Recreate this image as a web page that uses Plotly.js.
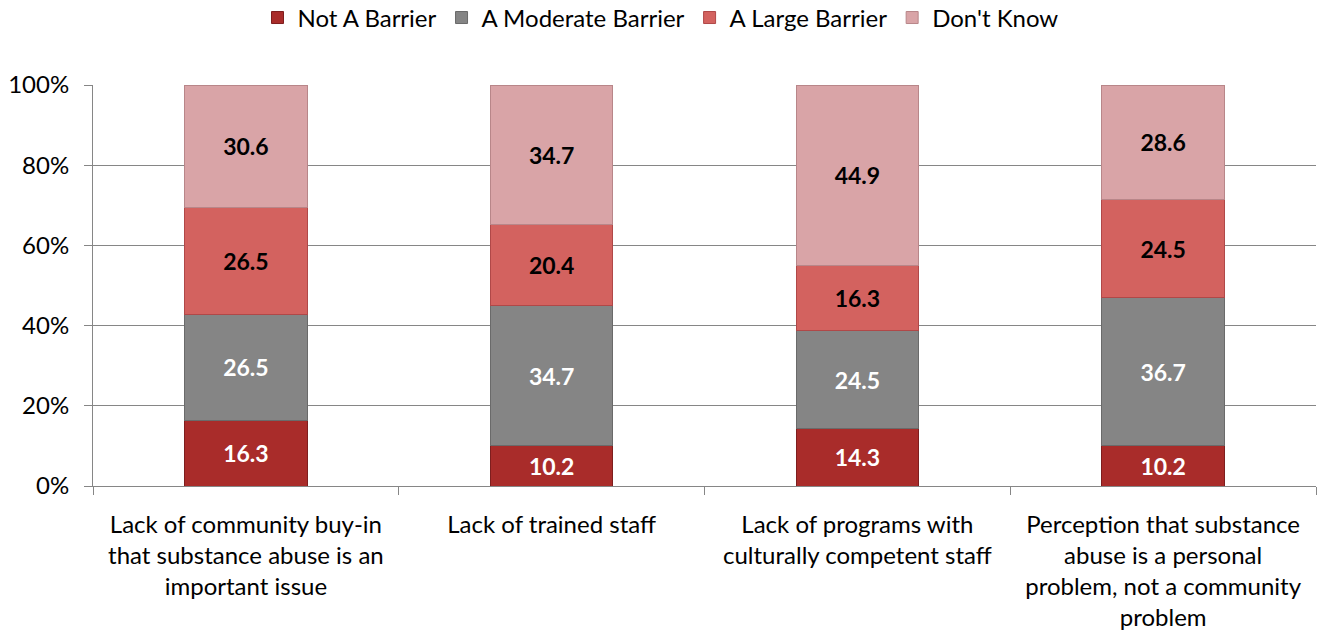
<!DOCTYPE html>
<html>
<head>
<meta charset="utf-8">
<script src="https://cdn.plot.ly/plotly-3.0.1.min.js"></script>
<style>html,body{margin:0;padding:0;background:#fff;}#chart{width:1321px;height:640px;}</style>
</head>
<body>
<div id="chart"></div>
<script>
const categories = [
  "Lack of community buy-in<br>that substance abuse is an<br>important issue",
  "Lack of trained staff",
  "Lack of programs with<br>culturally competent staff",
  "Perception that substance<br>abuse is a personal<br>problem, not a community<br>problem"
];
const seriesNames = ["Not A Barrier", "A Moderate Barrier", "A Large Barrier", "Don't Know"];
const notABarrier = [16.3, 10.2, 14.3, 10.2];
const moderateBarrier = [26.5, 34.7, 24.5, 36.7];
const largeBarrier = [26.5, 20.4, 16.3, 24.5];
const dontKnow = [30.6, 34.7, 44.9, 28.6];
const yTickVals = [0, 20, 40, 60, 80, 100];
const yTickText = ["0%", "20%", "40%", "60%", "80%", "100%"];

const seriesValues = [notABarrier, moderateBarrier, largeBarrier, dontKnow];
const colors = ["#a92c2a", "#858585", "#d3625f", "#d9a4a7"];
const lineColors = ["#7e1e1e", "#6a6a6a", "#b04848", "#b88689"];
const textColors = ["#ffffff", "#ffffff", "#000000", "#000000"];
const font = "Lato, 'Open Sans', sans-serif";

const traces = seriesValues.map((vals, i) => ({
  type: "bar",
  name: seriesNames[i],
  x: categories,
  y: vals,
  text: vals.map(v => v.toFixed(1)),
  textposition: "inside",
  insidetextanchor: "middle",
  textangle: 0,
  textfont: {family: font, size: 23, color: textColors[i], weight: "bold"},
  marker: {color: colors[i], line: {color: lineColors[i], width: 1}},
  hoverinfo: "none"
}));

const layout = {
  width: 1321, height: 640,
  margin: {l: 93, r: 5, t: 85, b: 154},
  barmode: "stack",
  barnorm: "percent",
  bargap: 0.6,
  paper_bgcolor: "#fff",
  plot_bgcolor: "#fff",
  font: {family: font, size: 24, color: "#000"},
  showlegend: true,
  legend: {orientation: "h", x: 0.5, xanchor: "center", xref: "container",
           y: 0.972, yanchor: "middle", yref: "container",
           font: {family: font, size: 24, color: "#000"}, traceorder: "normal",
           itemwidth: 30, tracegroupgap: 0},
  xaxis: {
    type: "category",
    tickson: "boundaries",
    ticks: "outside", ticklen: 8, tickcolor: "#868686",
    showline: true, linecolor: "#868686", linewidth: 1,
    showgrid: false,
    ticklabelstandoff: 17,
    tickfont: {family: font, size: 24, color: "#000"},
    automargin: false
  },
  yaxis: {
    range: [0, 100],
    tickvals: yTickVals, ticktext: yTickText,
    ticks: "outside", ticklen: 8, tickcolor: "#868686",
    showline: true, linecolor: "#868686", linewidth: 1,
    showgrid: true, gridcolor: "#868686", gridwidth: 1,
    zeroline: false,
    ticklabelstandoff: 10,
    tickfont: {family: font, size: 24, color: "#000"},
    automargin: false
  }
};

Plotly.newPlot("chart", traces, layout, {displayModeBar: false, staticPlot: true});
</script>
</body>
</html>
